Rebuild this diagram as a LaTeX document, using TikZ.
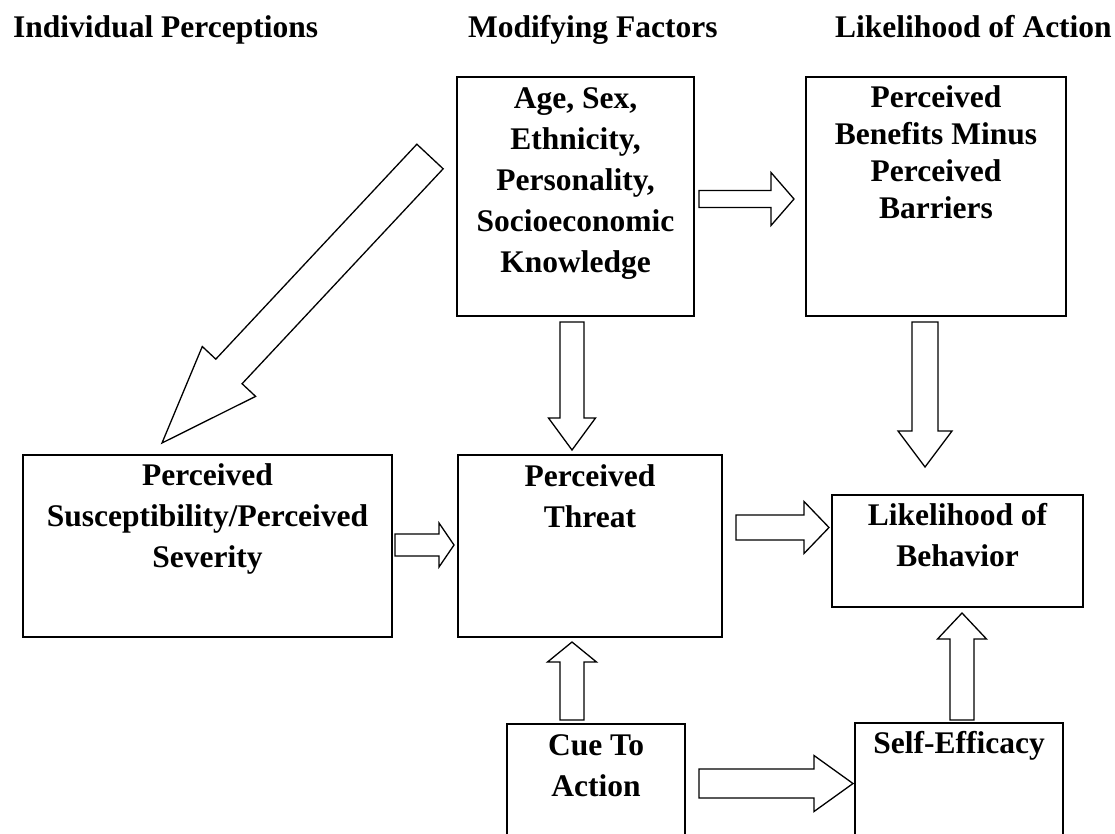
\documentclass[tikz,border=0pt]{standalone}
\usepackage{fontspec}
\setmainfont{Liberation Serif}
\usetikzlibrary{calc}

\tikzset{
  box/.style={draw=black, line width=1.8pt, inner sep=0pt, outer sep=0pt},
  lbl/.style={font=\fontsize{31.5}{41}\selectfont\bfseries, align=center, inner sep=0pt, anchor=base},
  hdr/.style={font=\fontsize{31.5}{41}\selectfont\bfseries, inner sep=0pt, anchor=base west},
  blk/.style={draw=black, line width=1.3pt, fill=white, line join=miter},
}

% block arrow: #1 start, #2 tip, #3 shaft half width, #4 head half width, #5 head length
\newcommand\blockarrow[5]{%
  \path (#1) coordinate (ba-s) (#2) coordinate (ba-e);
  \path ($(ba-e)!#5!(ba-s)$) coordinate (ba-h);
  \draw[blk] ($(ba-s)!#3!90:(ba-e)$) -- ($(ba-h)!#3!90:(ba-e)$)
    -- ($(ba-h)!#4!90:(ba-e)$) -- (ba-e) -- ($(ba-h)!#4!-90:(ba-e)$)
    -- ($(ba-h)!#3!-90:(ba-e)$) -- ($(ba-s)!#3!-90:(ba-e)$) -- cycle;
}

\begin{document}
\begin{tikzpicture}[x=1pt,y=-1pt]
\useasboundingbox (0,0) rectangle (1115,833);
\clip (0,0) rectangle (1115,833);

% column headings
\node[hdr] (h1) at (13,37) {Individual Perceptions};
\node[hdr] (h2) at (468,37) {Modifying Factors};
\node[hdr] (h3) at (835,37) {Likelihood of Action};

% boxes
\node[box, minimum width=237pt, minimum height=239pt] (age) at (575.5,196.5) {};
\node[box, minimum width=260pt, minimum height=239pt] (ben) at (936,196.5) {};
\node[box, minimum width=369pt, minimum height=182pt] (sus) at (207.5,546) {};
\node[box, minimum width=264pt, minimum height=182pt] (thr) at (590,546) {};
\node[box, minimum width=251pt, minimum height=112pt] (lik) at (957.5,551) {};
\node[box, minimum width=178pt, minimum height=140pt] (cue) at (596,794) {};
\node[box, minimum width=208pt, minimum height=140pt] (self) at (959,793) {};

% box texts (anchored on the baseline of their last line)
\node[lbl] (age-t) at ($(age.north)+(0,195)$) {Age, Sex,\\Ethnicity,\\Personality,\\Socioeconomic\\Knowledge};
\node[lbl, font=\fontsize{31.5}{37}\selectfont\bfseries] (ben-t) at ($(ben.north)+(0,141)$) {Perceived\\Benefits Minus\\Perceived\\Barriers};
\node[lbl] (sus-t) at ($(sus.north)+(0,112)$) {Perceived\\Susceptibility/Perceived\\Severity};
\node[lbl] (thr-t) at ($(thr.north)+(0,72)$) {Perceived\\Threat};
\node[lbl] (lik-t) at ($(lik.north)+(0,71)$) {Likelihood of\\Behavior};
\node[lbl] (cue-t) at ($(cue.north)+(0,72)$) {Cue To\\Action};
\node[lbl] (self-t) at ($(self.north)+(0,30)$) {Self-Efficacy};

% block arrows
\blockarrow{$(age.east)+(5,2.5)$}{$(ben.west)+(-12,2.5)$}{8.5pt}{26.5pt}{23pt}
\blockarrow{$(age.south)+(-3.5,6)$}{$(thr.north)+(-18,-5)$}{12pt}{23.5pt}{32pt}
\blockarrow{$(ben.south)+(-11,6)$}{$(lik.north)+(-32.5,-28)$}{13pt}{27pt}{36pt}
\blockarrow{$(age.north west)+(-27,79.5)$}{$(sus.north)+(-45.5,-12)$}{18pt}{36.5pt}{98pt}
\blockarrow{$(sus.east)+(3,-1)$}{$(thr.west)+(-4,-1)$}{11pt}{22pt}{15pt}
\blockarrow{$(thr.east)+(14,-18.5)$}{$(lik.west)+(-3,-23.5)$}{12.5pt}{26pt}{25pt}
\blockarrow{$(cue.north)+(-24,-4)$}{$(thr.south)+(-18,5)$}{12pt}{24.5pt}{20pt}
\blockarrow{$(cue.east)+(14,-10.5)$}{$(self.west)+(-2,-9.5)$}{14.5pt}{28pt}{39pt}
\blockarrow{$(self.north)+(3,-3)$}{$(lik.south)+(4.5,6)$}{12pt}{24.5pt}{26pt}
\end{tikzpicture}
\end{document}
